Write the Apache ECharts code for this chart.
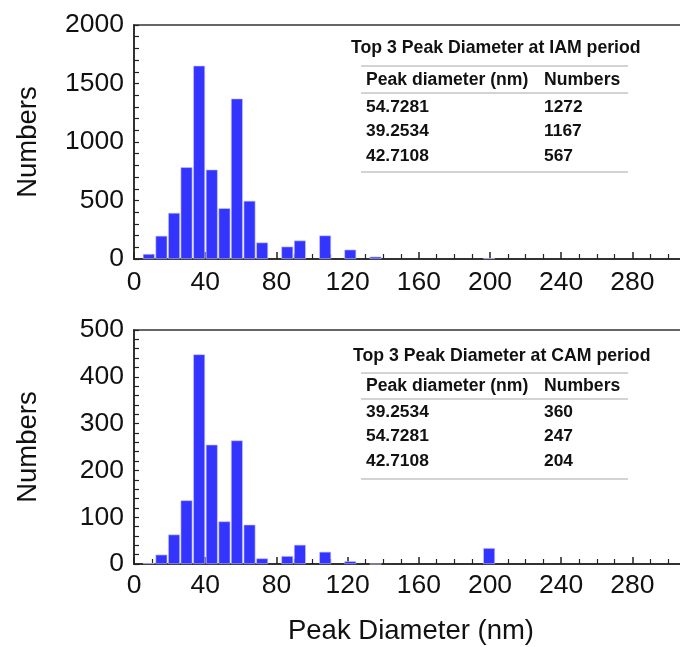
<!DOCTYPE html>
<html>
<head>
<meta charset="utf-8">
<script src="https://cdn.jsdelivr.net/npm/echarts@6/dist/echarts.min.js"></script>
<style>
html,body{margin:0;padding:0;background:#fff;}
#chart{width:680px;height:647px;}
</style>
</head>
<body>
<div id="chart"></div>
<script>
// Bin centres (nm) of the histogram bars
const binCenters = [8.3, 15.4, 22.5, 29.5, 36.6, 43.7, 50.8, 57.8, 64.9, 72.0, 86.1, 93.2, 107.4, 121.5, 135.7, 199.5];
// IAM period counts per bin
const iamCounts = [43, 198, 394, 784, 1652, 764, 434, 1371, 497, 141, 106, 158, 201, 80, 20, 8];
// CAM period counts per bin
const camCounts = [2, 20, 63, 136, 448, 255, 91, 264, 84, 12, 17, 41, 26, 6, 0, 34];

// Table contents
const tableHeader = ['Peak diameter (nm)', 'Numbers'];
const iamTitle = 'Top 3 Peak Diameter at IAM period';
const iamRows = [['54.7281', '1272'], ['39.2534', '1167'], ['42.7108', '567']];
const camTitle = 'Top 3 Peak Diameter at CAM period';
const camRows = [['39.2534', '360'], ['54.7281', '247'], ['42.7108', '204']];

const xName = 'Peak Diameter (nm)';
const yName = 'Numbers';

const FONT = '"Liberation Sans", Arial, sans-serif';
const chart = echarts.init(document.getElementById('chart'), null, {renderer: 'canvas'});

function pairs(xs, ys) { return xs.map((x, i) => [x, ys[i]]); }
const plain = v => String(v);

function xAxisCfg(gi, margin) {
  return {
    gridIndex: gi, type: 'value', min: 0, max: 320, interval: 40,
    axisLine: {show: true, lineStyle: {color: '#222', width: 1.5}},
    axisTick: {show: true, inside: true, length: 7, lineStyle: {color: '#222', width: 1.5}},
    minorTick: {show: true, splitNumber: 4, length: 5, lineStyle: {color: '#222', width: 1.2}},
    splitLine: {show: false},
    axisLabel: {fontFamily: FONT, fontSize: 26.5, color: '#111', margin: margin, formatter: plain}
  };
}
function yAxisCfg(gi, max, interval) {
  return {
    gridIndex: gi, type: 'value', min: 0, max: max, interval: interval,
    name: yName, nameLocation: 'middle', nameGap: 92,
    nameTextStyle: {fontFamily: FONT, fontSize: 27.5, color: '#111'},
    axisLine: {show: true, lineStyle: {color: '#222', width: 1.5}},
    axisTick: {show: true, inside: true, length: 5, lineStyle: {color: '#222', width: 1.2}},
    minorTick: {show: true, splitNumber: 5, length: 5, lineStyle: {color: '#222', width: 1.2}},
    splitLine: {show: false},
    axisLabel: {fontFamily: FONT, fontSize: 26.5, color: '#111', margin: 10, formatter: plain}
  };
}

function txt(x, y, s, size) {
  return {type: 'text', x: x, y: y, style: {text: s, font: 'bold ' + size + 'px ' + FONT, fill: '#111', align: 'left', verticalAlign: 'middle'}};
}

function tableGraphics(title, rows, o) {
  const g = [];
  const lineStyle = {stroke: '#c4c4c4', lineWidth: 1.6};
  g.push(txt(o.titleX, o.titleY, title, 17.7));
  [o.line1, o.line2, o.line3].forEach(y => {
    g.push({type: 'line', shape: {x1: o.lx1, y1: y, x2: o.lx2, y2: y}, style: lineStyle});
  });
  g.push(txt(o.c1, o.headY, tableHeader[0], 17.6));
  g.push(txt(o.c2, o.headY, tableHeader[1], 17.6));
  rows.forEach((r, i) => {
    g.push(txt(o.c1, o.rowY[i], r[0], 17.4));
    g.push(txt(o.c2, o.rowY[i], r[1], 17.4));
  });
  return g;
}

const barStyle = {color: '#3434ff', borderColor: '#c8c8ff', borderWidth: 0.6};

const option = {
  animation: false,
  backgroundColor: '#fff',
  grid: [
    {left: 134, top: 25, width: 569.6, height: 234, outerBoundsMode: 'none', containLabel: false, show: true, borderColor: '#666', borderWidth: 2, backgroundColor: 'transparent'},
    {left: 134, top: 330, width: 569.6, height: 234, outerBoundsMode: 'none', containLabel: false, show: true, borderColor: '#666', borderWidth: 2, backgroundColor: 'transparent'}
  ],
  xAxis: [xAxisCfg(0, 10), xAxisCfg(1, 8)],
  yAxis: [yAxisCfg(0, 2000, 500), yAxisCfg(1, 500, 100)],
  series: [
    {type: 'bar', xAxisIndex: 0, yAxisIndex: 0, data: pairs(binCenters, iamCounts), barWidth: 11.8, itemStyle: barStyle},
    {type: 'bar', xAxisIndex: 1, yAxisIndex: 1, data: pairs(binCenters, camCounts), barWidth: 11.8, itemStyle: barStyle}
  ],
  graphic: [].concat(
    tableGraphics(iamTitle, iamRows, {titleX: 351, titleY: 48, lx1: 361, lx2: 628, line1: 66, line2: 93, line3: 172, c1: 366, c2: 544, headY: 80, rowY: [107, 131.5, 156]}),
    tableGraphics(camTitle, camRows, {titleX: 353, titleY: 356, lx1: 361, lx2: 628, line1: 373, line2: 399, line3: 479, c1: 366, c2: 544, headY: 386, rowY: [412, 436.5, 461]}),
    [{type: 'text', x: 411, y: 631, style: {text: xName, font: '27.5px ' + FONT, fill: '#111', align: 'center', verticalAlign: 'middle'}}]
  )
};
chart.setOption(option);
</script>
</body>
</html>
